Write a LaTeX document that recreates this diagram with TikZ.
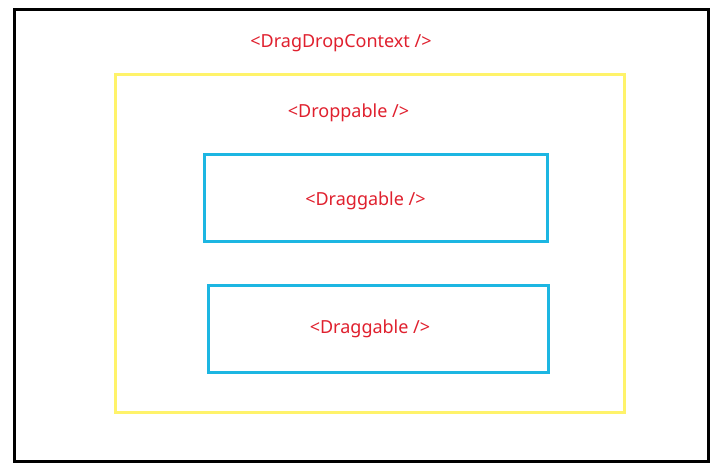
\documentclass[tikz,border=0pt]{standalone}
\usepackage{fontspec}
\setmainfont{Noto Sans}
\definecolor{lbl}{HTML}{E0202E}
\definecolor{ybox}{HTML}{FFF36A}
\definecolor{bbox}{HTML}{1CB6E2}
\begin{document}
\begin{tikzpicture}[x=1pt,y=-1pt,
  lab/.style={text=lbl,font=\fontsize{18}{20}\selectfont,inner sep=0pt},
  frame/.style={line width=3pt}]
\useasboundingbox[fill=white] (0,0) rectangle (720,469);
\draw[frame,black] (14.5,9.5) rectangle (708.5,461.5);
\draw[frame,ybox] (115.5,74) rectangle (624.5,412.5);
\draw[frame,bbox] (204.5,154) rectangle (547.5,241.5);
\draw[frame,bbox] (208.5,285) rectangle (548.5,372.5);
\node[lab] (ctx) at (341,43.5) {<DragDropContext />};
\node[lab] (drop) at (348.5,112.5) {<Droppable />};
\node[lab] (d1) at (365.5,200.5) {<Draggable />};
\node[lab] (d2) at (370,328.5) {<Draggable />};
\end{tikzpicture}
\end{document}
